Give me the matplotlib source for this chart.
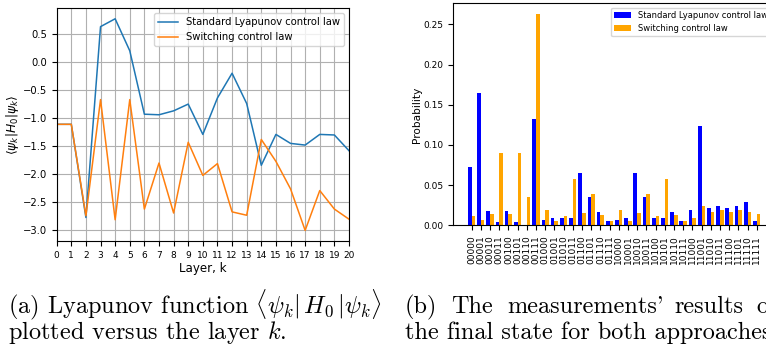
import numpy as np
import matplotlib
matplotlib.use("Agg")
import matplotlib.pyplot as plt

# ---- data ----
layers = list(range(21))
lyap_std = [-1.11, -1.11, -2.77, 0.63, 0.77, 0.20, -0.93, -0.94, -0.87, -0.75, -1.29,
            -0.64, -0.20, -0.74, -1.84, -1.29, -1.45, -1.48, -1.29, -1.30, -1.58]
lyap_sw = [-1.11, -1.11, -2.74, -0.67, -2.81, -0.67, -2.62, -1.80, -2.69, -1.43, -2.02,
           -1.81, -2.67, -2.73, -1.38, -1.77, -2.26, -3.00, -2.29, -2.62, -2.80]

states = [format(i, "05b") for i in range(32)]
prob_std = [0.073, 0.165, 0.018, 0.004, 0.018, 0.004, 0.0, 0.132,
            0.0066, 0.0091, 0.0091, 0.0091, 0.065, 0.035, 0.0166, 0.0054,
            0.0066, 0.0091, 0.065, 0.035, 0.0091, 0.0091, 0.0166, 0.0054,
            0.019, 0.1235, 0.0216, 0.024, 0.0216, 0.024, 0.029, 0.0054]
prob_sw = [0.0116, 0.0066, 0.0141, 0.090, 0.0141, 0.090, 0.0353, 0.263,
           0.019, 0.0054, 0.0116, 0.0577, 0.0154, 0.039, 0.0129, 0.0054,
           0.019, 0.0054, 0.0154, 0.039, 0.0116, 0.0577, 0.0129, 0.0054,
           0.0091, 0.024, 0.0166, 0.019, 0.0166, 0.019, 0.0166, 0.0141]

fig = plt.figure(figsize=(7.66, 3.49), dpi=100)

#---- (a) lyapunov function ----
ax1 = fig.add_axes([0.074, 0.3095, 0.3816, 0.667])
ax1.plot(layers, lyap_std, label="Standard Lyapunov control law", lw=1.1)
ax1.plot(layers, lyap_sw, label="Switching control law", lw=1.1)
ax1.set_xlim(0, 20)
ax1.set_xticks(layers)
ax1.tick_params(axis="x", labelsize=6.5)
ax1.tick_params(axis="y", labelsize=7.2)
ax1.grid(True)
ax1.set_xlabel("Layer, k", fontsize=8.6, labelpad=2)
ax1.set_ylabel(r"$\langle\psi_k|H_0|\psi_k\rangle$", fontsize=8.8, labelpad=1)
ax1.legend(loc="upper right", fontsize=7.2)

#---- (b) measurement histogram ----
ax2 = fig.add_axes([0.5918, 0.3544, 0.42, 0.636])
x = np.arange(len(states))
w = 0.4
ax2.bar(x - w / 2, prob_std, w, color="blue", label="Standard Lyapunov control law")
ax2.bar(x + w / 2, prob_sw, w, color="orange", label="Switching control law")
ax2.set_xticks(x)
ax2.set_xticklabels(states, rotation=90, fontsize=6.5)
ax2.tick_params(axis="y", labelsize=6.5)
ax2.set_ylabel("Probability", fontsize=7.6, labelpad=1)
ax2.legend(loc="upper right", fontsize=6.0)

# captions (latex-like, justified first line of (b))
cap = dict(family="cmr10", math_fontfamily="cm", fontsize=17.5, va="baseline")
y1 = 1 - 313 / 349
y2 = 1 - 339 / 349
fig.text(8 / 766, y1, r"(a) Lyapunov function $\langle\psi_k|\,H_0\,|\psi_k\rangle$", **cap)
fig.text(8 / 766, y2, r"plotted versus the layer $k$.", **cap)
for word, px in [("(b)", 405), ("The", 451), ("measurements'", 507), ("results", 674), ("of", 756)]:
    fig.text(px / 766, y1, word, **cap)
fig.text(405 / 766, y2, "the final state for both approaches.", **cap)

fig.savefig("out.png", dpi=100)
